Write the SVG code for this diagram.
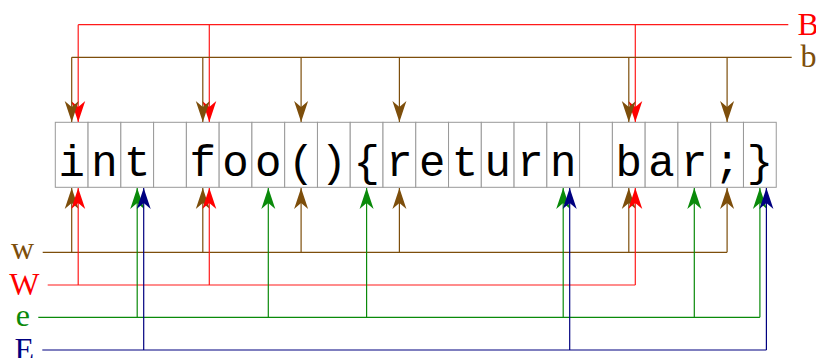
<svg xmlns="http://www.w3.org/2000/svg" width="816" height="358" viewBox="0 0 816 358">
<style>
.cell rect{fill:#fff;stroke:#999;stroke-width:1}
.cell text{font-family:"Liberation Mono","DejaVu Sans Mono",monospace;font-size:44px;fill:#000;text-anchor:middle}
.lbl{font-family:"Liberation Serif","DejaVu Serif",serif;font-size:32px}
.c path{fill:none;stroke-width:1.2}
.red{stroke:#ff1a1a}
.brn{stroke:#7d4e0b}
.grn{stroke:#0a8a0a}
.nav{stroke:#000080}
</style>
<defs>
<marker id="aR" markerUnits="userSpaceOnUse" markerWidth="22" markerHeight="16" refX="21" refY="8" orient="auto"><path d="M21,8 L0,1 L6,8 L0,15 Z" fill="#ff0000"/></marker>
<marker id="aB" markerUnits="userSpaceOnUse" markerWidth="22" markerHeight="16" refX="21" refY="8" orient="auto"><path d="M21,8 L0,1 L6,8 L0,15 Z" fill="#7d4e0b"/></marker>
<marker id="aG" markerUnits="userSpaceOnUse" markerWidth="22" markerHeight="16" refX="21" refY="8" orient="auto"><path d="M21,8 L0,1 L6,8 L0,15 Z" fill="#0a8a0a"/></marker>
<marker id="aN" markerUnits="userSpaceOnUse" markerWidth="22" markerHeight="16" refX="21" refY="8" orient="auto"><path d="M21,8 L0,1 L6,8 L0,15 Z" fill="#000080"/></marker>
</defs>
<g id="cells">
<g id="c0" class="cell"><rect x="55.3" y="122.3" width="32.77" height="65"/><text x="71.7" y="176">i</text></g>
<g id="c1" class="cell"><rect x="88.07" y="122.3" width="32.77" height="65"/><text x="104.45" y="176">n</text></g>
<g id="c2" class="cell"><rect x="120.84" y="122.3" width="32.77" height="65"/><text x="137.2" y="176">t</text></g>
<g id="c3" class="cell"><rect x="153.61" y="122.3" width="32.77" height="65"/></g>
<g id="c4" class="cell"><rect x="186.38" y="122.3" width="32.77" height="65"/><text x="202.8" y="176">f</text></g>
<g id="c5" class="cell"><rect x="219.15" y="122.3" width="32.77" height="65"/><text x="235.5" y="176">o</text></g>
<g id="c6" class="cell"><rect x="251.92" y="122.3" width="32.77" height="65"/><text x="268.3" y="176">o</text></g>
<g id="c7" class="cell"><rect x="284.69" y="122.3" width="32.77" height="65"/><text x="301.1" y="176">(</text></g>
<g id="c8" class="cell"><rect x="317.46" y="122.3" width="32.77" height="65"/><text x="333.8" y="176">)</text></g>
<g id="c9" class="cell"><rect x="350.23" y="122.3" width="32.77" height="65"/><text x="366.6" y="176">{</text></g>
<g id="c10" class="cell"><rect x="383" y="122.3" width="32.77" height="65"/><text x="399.4" y="176">r</text></g>
<g id="c11" class="cell"><rect x="415.77" y="122.3" width="32.77" height="65"/><text x="432.2" y="176">e</text></g>
<g id="c12" class="cell"><rect x="448.54" y="122.3" width="32.77" height="65"/><text x="464.9" y="176">t</text></g>
<g id="c13" class="cell"><rect x="481.31" y="122.3" width="32.77" height="65"/><text x="497.7" y="176">u</text></g>
<g id="c14" class="cell"><rect x="514.08" y="122.3" width="32.77" height="65"/><text x="530.5" y="176">r</text></g>
<g id="c15" class="cell"><rect x="546.85" y="122.3" width="32.77" height="65"/><text x="563.2" y="176">n</text></g>
<g id="c16" class="cell"><rect x="579.62" y="122.3" width="32.77" height="65"/></g>
<g id="c17" class="cell"><rect x="612.39" y="122.3" width="32.77" height="65"/><text x="628.8" y="176">b</text></g>
<g id="c18" class="cell"><rect x="645.16" y="122.3" width="32.77" height="65"/><text x="661.5" y="176">a</text></g>
<g id="c19" class="cell"><rect x="677.93" y="122.3" width="32.77" height="65"/><text x="694.3" y="176">r</text></g>
<g id="c20" class="cell"><rect x="710.7" y="122.3" width="32.77" height="65"/><text x="727.1" y="176">;</text></g>
<g id="c21" class="cell"><rect x="743.47" y="122.3" width="32.77" height="65"/><text x="759.9" y="176">}</text></g>
</g>
<g id="connectors" class="c">
<path class="red" d="M78.2,24.7 H788.3"/>
<path class="red" d="M78.2,24.7 V122" marker-end="url(#aR)"/>
<path class="red" d="M209.3,24.7 V122" marker-end="url(#aR)"/>
<path class="red" d="M635.3,24.7 V122" marker-end="url(#aR)"/>
<path class="brn" d="M71.7,57.3 H791.7"/>
<path class="brn" d="M71.7,57.3 V122" marker-end="url(#aB)"/>
<path class="brn" d="M202.8,57.3 V122" marker-end="url(#aB)"/>
<path class="brn" d="M301.1,57.3 V122" marker-end="url(#aB)"/>
<path class="brn" d="M399.4,57.3 V122" marker-end="url(#aB)"/>
<path class="brn" d="M628.8,57.3 V122" marker-end="url(#aB)"/>
<path class="brn" d="M727.1,57.3 V122" marker-end="url(#aB)"/>
<path class="brn" d="M42.7,252.3 H727.1"/>
<path class="brn" d="M71.7,252.3 V188" marker-end="url(#aB)"/>
<path class="brn" d="M202.8,252.3 V188" marker-end="url(#aB)"/>
<path class="brn" d="M301.1,252.3 V188" marker-end="url(#aB)"/>
<path class="brn" d="M399.4,252.3 V188" marker-end="url(#aB)"/>
<path class="brn" d="M628.8,252.3 V188" marker-end="url(#aB)"/>
<path class="brn" d="M727.1,252.3 V188" marker-end="url(#aB)"/>
<path class="red" d="M47.7,285 H635.3"/>
<path class="red" d="M78.2,285 V188" marker-end="url(#aR)"/>
<path class="red" d="M209.3,285 V188" marker-end="url(#aR)"/>
<path class="red" d="M635.3,285 V188" marker-end="url(#aR)"/>
<path class="grn" d="M38.3,317.3 H759.9"/>
<path class="grn" d="M137.2,317.3 V188" marker-end="url(#aG)"/>
<path class="grn" d="M268.3,317.3 V188" marker-end="url(#aG)"/>
<path class="grn" d="M366.6,317.3 V188" marker-end="url(#aG)"/>
<path class="grn" d="M563.2,317.3 V188" marker-end="url(#aG)"/>
<path class="grn" d="M694.3,317.3 V188" marker-end="url(#aG)"/>
<path class="grn" d="M759.9,317.3 V188" marker-end="url(#aG)"/>
<path class="nav" d="M42.3,350 H766.4"/>
<path class="nav" d="M143.7,350 V188" marker-end="url(#aN)"/>
<path class="nav" d="M569.7,350 V188" marker-end="url(#aN)"/>
<path class="nav" d="M766.4,350 V188" marker-end="url(#aN)"/>
</g>
<g id="lB"><text class="lbl" x="797.5" y="35" fill="#ff0000">B</text></g>
<g id="lb"><text class="lbl" x="800.5" y="67" fill="#7d4e0b">b</text></g>
<g id="lw"><text class="lbl" x="34" y="259" fill="#7d4e0b" text-anchor="end">w</text></g>
<g id="lW"><text class="lbl" x="39.5" y="295" fill="#ff0000" text-anchor="end">W</text></g>
<g id="le"><text class="lbl" x="30" y="326" fill="#0a8a0a" text-anchor="end">e</text></g>
<g id="lE"><text class="lbl" x="34" y="360" fill="#000080" text-anchor="end">E</text></g>
</svg>
